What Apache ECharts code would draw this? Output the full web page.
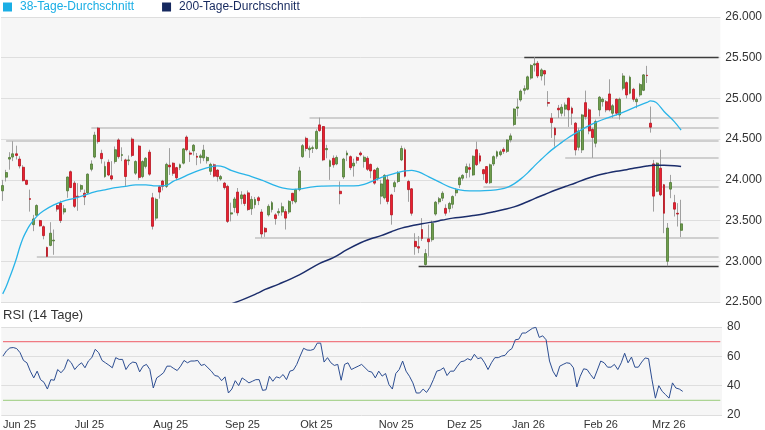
<!DOCTYPE html>
<html>
<head>
<meta charset="utf-8">
<script src="https://cdn.jsdelivr.net/npm/echarts@6/dist/echarts.min.js"></script>
<style>
html,body{margin:0;padding:0;background:#fff;}
#chart{width:765px;height:430px;}
</style>
</head>
<body>
<div id="chart"></div>
<script>
// ---- trading days per month ----
const months = [
  ['2025-06',[2,3,4,5,6,9,10,11,12,13,16,17,18,19,20,23,24,25,26,27,30]],
  ['2025-07',[1,2,3,4,7,8,9,10,11,14,15,16,17,18,21,22,23,24,25,28,29,30,31]],
  ['2025-08',[1,4,5,6,7,8,11,12,13,14,15,18,19,20,21,22,25,26,27,28,29]],
  ['2025-09',[1,2,3,4,5,8,9,10,11,12,15,16,17,18,19,22,23,24,25,26,29,30]],
  ['2025-10',[1,2,3,6,7,8,9,10,13,14,15,16,17,20,21,22,23,24,27,28,29,30,31]],
  ['2025-11',[3,4,5,6,7,10,11,12,13,14,17,18,19,20,21,24,25,26,27,28]],
  ['2025-12',[1,2,3,4,5,8,9,10,11,12,15,16,17,18,19,22,23,29,30]],
  ['2026-01',[2,5,6,7,8,9,12,13,14,15,16,19,20,21,22,23,26,27,28,29,30]],
  ['2026-02',[2,3,4,5,6,9,10,11,12,13,16,17,18,19,20,23,24,25,26,27]],
  ['2026-03',[2,3,4,5,6,9,10,11,12,13]]
];
const padSlots = 11;
const monthNames = ['Jan','Feb','Mrz','Apr','Mai','Jun','Jul','Aug','Sep','Okt','Nov','Dez'];

// ---- OHLC per month: [open, close, low, high] ----
const jun25 = [[23865,23930,23742,24000],[24033,24090,23980,24123],[24255,24275,24125,24340],[24280,24320,24230,24475],[24320,24300,24250,24420],[24255,24170,24140,24290],[24155,23990,23980,24180],[23995,23945,23935,24000],[23770,23760,23610,23880],[23450,23520,23370,23570],[23565,23685,23560,23700],[23500,23435,23425,23510],[23425,23315,23270,23440],[23170,23060,23050,23180],[23195,23345,23185,23480],[23250,23260,23080,23390],[23685,23640,23610,23700],[23715,23500,23470,23745],[23605,23645,23575,23690],[23865,24035,23780,24040],[24100,23905,23900,24115]];
const jul25 = [[23960,23675,23655,23985],[23800,23790,23620,23960],[23885,23930,23850,23945],[23835,23790,23690,23880],[23840,24070,23825,24080],[24130,24195,24105,24240],[24280,24550,24265,24590],[24635,24470,24445,24650],[24325,24260,24200,24370],[24040,24165,24025,24225],[24215,24060,24045,24250],[24050,24010,23990,24230],[24225,24370,24200,24410],[24490,24285,24260,24510],[24300,24310,24230,24400],[24245,24041,23926,24260],[24235,24245,24180,24300],[24500,24300,24280,24520],[24082,24225,24060,24240],[24415,24030,24000,24430],[24040,24225,24020,24240],[24165,24265,24140,24280],[24340,24070,24050,24370]];
const aug25 = [[23780,23430,23390,23840],[23530,23760,23500,23780],[23915,23850,23770,23930],[23985,23920,23870,24000],[23920,24190,23900,24210],[24180,24160,24060,24390],[24205,24080,24050,24215],[24150,24025,23995,24160],[24150,24185,24120,24200],[24205,24380,24190,24390],[24525,24370,24350,24545],[24330,24315,24220,24360],[24355,24425,24300,24440],[24290,24278,24180,24330],[24275,24295,24200,24320],[24270,24365,24230,24430],[24235,24275,24200,24290],[24105,24190,24060,24210],[24185,24045,24030,24200],[24120,24040,23980,24130],[24010,24040,23990,24060]];
const sep25 = [[23960,23905,23880,23975],[23920,23490,23470,23940],[23580,23595,23490,23720],[23660,23765,23600,23790],[23850,23595,23560,23900],[23770,23815,23700,23860],[23815,23710,23680,23830],[23840,23635,23620,23870],[23645,23760,23570,23800],[23695,23760,23650,23790],[23780,23745,23690,23800],[23605,23335,23290,23640],[23405,23360,23300,23420],[23570,23675,23550,23700],[23635,23720,23600,23740],[23570,23525,23450,23590],[23595,23612,23560,23650],[23605,23670,23560,23720],[23610,23530,23390,23640],[23605,23735,23580,23750],[23835,23745,23700,23840],[23730,23880,23710,23890]];
const oct25 = [[23880,24110,23860,24160],[24285,24420,24270,24440],[24510,24385,24350,24530],[24370,24390,24270,24420],[24385,24395,24330,24420],[24385,24595,24370,24620],[24675,24605,24590,24765],[24655,24245,24230,24660],[24370,24385,24265,24430],[24165,24235,24000,24250],[24265,24185,24150,24300],[24195,24275,24180,24300],[23860,23830,23700,23980],[24035,24255,24010,24270],[24305,24330,24230,24360],[24285,24150,24120,24300],[24170,24205,24040,24260],[24275,24240,24200,24290],[24330,24308,24290,24350],[24225,24278,24150,24300],[24265,24130,24110,24290],[24190,24110,24020,24200],[24120,23960,23940,24130]];
const nov25 = [[24020,24140,23990,24160],[23800,23950,23700,24000],[23780,24055,23760,24070],[24000,23735,23700,24050],[23815,23570,23450,23830],[23915,23965,23850,23990],[23980,24085,23960,24110],[24245,24385,24230,24420],[24370,24045,24030,24395],[23980,23880,23730,24000],[23890,23590,23560,23900],[23245,23180,23080,23345],[23180,23162,23100,23310],[23390,23280,23250,23530],[22960,23095,22940,23150],[23275,23240,23060,23450],[23265,23465,23240,23500],[23580,23725,23560,23740],[23730,23768,23700,23790],[23775,23836,23740,23860]];
const dec25 = [[23650,23590,23560,23700],[23645,23710,23600,23730],[23700,23795,23650,23810],[23840,23877,23800,23900],[23940,24025,23900,24040],[24020,24055,23990,24070],[24090,24162,24020,24200],[24150,24130,24030,24200],[24060,24290,24050,24300],[24370,24186,24170,24470],[24295,24230,24200,24330],[24125,24075,24000,24135],[24163,23965,23950,24170],[23965,24185,23950,24200],[24195,24285,24170,24300],[24290,24345,24260,24360],[24310,24345,24290,24370],[24375,24350,24320,24400],[24350,24490,24330,24500]];
const jan26 = [[24490,24540,24460,24570],[24680,24870,24660,24880],[24880,24895,24780,25000],[24982,25090,24960,25110],[25100,25120,25050,25160],[25113,25265,25100,25280],[25250,25405,25230,25420],[25410,25425,25330,25506],[25432,25276,25250,25460],[25276,25350,25220,25370],[25341,25300,25160,25350],[24950,24940,24900,25090],[24757,24703,24515,24820],[24634,24552,24409,24650],[24880,24860,24760,24920],[24818,24892,24780,24930],[24868,24920,24780,24950],[25003,24859,24650,25010],[24880,24818,24675,24900],[24696,24368,24300,24710],[24400,24600,24360,24640]];
const feb26 = [[24368,24797,24330,24810],[24948,24777,24740,25096],[24860,24600,24560,24880],[24620,24520,24270,24640],[24450,24716,24400,24740],[24859,25015,24780,25030],[24960,24990,24900,25010],[24960,24859,24830,24980],[25055,24859,24840,25235],[24818,24910,24760,24930],[24990,24818,24790,25000],[24797,24990,24740,25010],[25125,25276,25100,25310],[25194,25043,25000,25210],[25064,25260,25050,25280],[25113,24990,24960,25130],[24960,24990,24880,25010],[25043,25170,25020,25190],[25100,25289,25090,25300],[25285,25280,25190,25400]];
const mar26 = [[24696,24647,24580,24900],[24196,23800,23610,24245],[23860,24205,23850,24215],[24143,23816,23800,24370],[23940,23590,23345,23950],[23000,23408,22940,23470],[23886,23967,23775,24061],[23720,23640,23550,23816],[23590,23580,23427,23714],[23380,23460,23297,23755]];

// ---- moving averages: [tradingDayIndex, value] ----
const ma38 = [[0,22600],[1,22687],[2,22797],[3,22908],[4,23031],[5,23172],[6,23288],[7,23374],[8,23448],[10,23552],[12,23620],[15,23693],[18,23742],[21,23773],[24,23812],[27,23853],[30,23877],[33,23904],[36,23920],[39,23939],[42,23939],[45,23926],[48,23933],[50,23982],[52,24016],[55,24074],[58,24123],[61,24160],[63,24172],[65,24156],[67,24117],[70,24076],[73,24041],[76,23996],[79,23945],[82,23902],[85,23884],[88,23893],[91,23914],[94,23923],[97,23926],[100,23926],[103,23926],[106,23945],[109,23994],[112,24043],[115,24080],[118,24110],[120,24117],[122,24098],[125,24037],[128,23975],[131,23914],[134,23877],[137,23865],[140,23865],[143,23871],[146,23886],[148,23908],[150,23951],[152,24012],[154,24086],[156,24172],[158,24252],[160,24331],[162,24399],[164,24460],[166,24521],[168,24571],[171,24644],[174,24706],[177,24755],[180,24798],[183,24847],[186,24902],[189,24951],[190,24969],[191,24963],[192,24939],[194,24840],[197,24715],[199,24610]];
const ma200 = [[65,22455],[68,22490],[75,22612],[77,22655],[81,22720],[87,22834],[93,22975],[97,23045],[101,23143],[105,23228],[108,23277],[111,23315],[114,23363],[117,23407],[120,23436],[123,23462],[126,23481],[129,23506],[132,23530],[135,23545],[138,23562],[141,23582],[144,23607],[147,23635],[150,23668],[153,23715],[156,23770],[159,23820],[162,23872],[165,23918],[168,23962],[171,24010],[174,24050],[177,24080],[180,24106],[183,24125],[186,24148],[189,24170],[191,24180],[194,24178],[197,24172],[199,24165]];

// ---- RSI (14) per trading day ----
const rsi = [60.2,63.7,65.7,66,65.3,62.5,57.2,55.6,49.9,45.3,49.9,44.1,42.3,37.7,44.1,43.7,51,48.8,51.5,57.9,55.6,51,53.8,55.6,52.2,56.8,59.1,64.8,62.5,57.2,55.6,54,52.2,59.1,57.9,57.9,51,54.5,56.1,55.6,49.4,53.3,54.5,51,38.4,45.3,46.9,48.8,53.3,53.3,51.7,50.3,53.3,57.2,55.6,56.8,56.8,57.2,53.8,54.5,52.2,49.9,46.9,46.4,43.4,46,35,37.7,43.4,40,45.3,43.7,41.9,43,44.1,44.1,36.8,37.2,46.4,43,46,45.3,47.6,44.1,49.9,50.6,54.5,60.2,65.5,64.3,64.1,64.8,69,69,56.1,59.1,55.6,53.8,54.5,43.7,54.5,55.6,51,52.2,53.3,54.5,null,49.9,49.2,45.3,49.9,46.5,48.3,40.7,37.7,48.3,51,56.8,49.9,46.4,41.9,35,35,37.7,35.4,38.9,44.1,49.9,50.6,52.2,46.9,49.9,49.9,53.3,56.3,56.8,58.4,57.4,61.4,58.4,59.1,55.6,51,55.6,59.1,59.1,60.2,60.7,63.7,65.3,71.3,71.7,75.9,75.9,77.5,79.1,79.8,72.9,74,71.3,56.8,49.9,46,53.3,54.5,55.6,55.2,52.2,39.1,46.4,51.5,51,47.6,44.6,50.6,56.8,55.6,52.6,52.6,54.5,51,55.6,62.1,55.6,59.5,52.6,52.6,56.1,58.9,58.4,44.1,31.5,40,36.1,33.8,31.5,41.9,38.4,37.7,36.1];
const rsiOverbought = 70;
const rsiOversold = 30;

// ---- horizontal support / resistance lines: [value, startDayIndex, dark] ----
const hLines = [[25505,153,true],[24761,90,false],[24638,26,false],[24478,1,false],[24270,165,false],[23914,141,false],[23288,74,false],[23055,10,false],[22945,122,true]];

// ---- axis ticks ----
const priceAxis = {min:22500, max:26000, step:500};
const rsiAxis = {min:20, max:80, step:20};

// ---- build ----
const categories = [];
const firstOfMonth = new Set();
months.forEach(([ym, days]) => {
  days.forEach((d, k) => {
    if (k === 0) firstOfMonth.add(categories.length);
    categories.push(ym + '-' + String(d).padStart(2,'0'));
  });
});
for (let k = 1; k <= padSlots; k++) categories.push('pad' + k);
const lastSlot = categories.length - 1;

const ohlc = [].concat(jun25, jul25, aug25, sep25, oct25, nov25, dec25, jan26, feb26, mar26);
const bodies = ohlc.map(([o,c]) => [o, c, Math.min(o,c), Math.max(o,c)]);

const FONT = '"Liberation Sans", Arial, Helvetica, sans-serif';
const fmtDE = v => String(v).replace(/\B(?=(\d{3})+(?!\d))/g, '.');

function levelSeries(name, value, color, width) {
  return {
    name: name, type: 'line', xAxisIndex: 1, yAxisIndex: 1, z: 3,
    data: [[0, value], [lastSlot, value]],
    showSymbol: false, silent: true, color: color,
    itemStyle: {color: color},
    lineStyle: {color: color, width: width, type: 'solid'},
    emphasis: {disabled: true}
  };
}

const chart = echarts.init(document.getElementById('chart'), null, {renderer:'canvas'});
chart.setOption({
  animation: false,
  backgroundColor: '#ffffff',
  textStyle: {fontFamily: FONT},
  legend: {
    left: 3, top: 0, padding: 0, itemWidth: 9, itemHeight: 9, itemGap: 28, icon: 'rect',
    textStyle: {fontSize: 12, fontFamily: FONT, padding: [0,0,0,3], lineHeight: 14},
    data: [
      {name: '38-Tage-Durchschnitt', textStyle: {color: '#1aaee5'}},
      {name: '200-Tage-Durchschnitt', textStyle: {color: '#16295f'}}
    ],
    selectedMode: false
  },
  graphic: [{
    type: 'text', left: 3, top: 309,
    style: {text: 'RSI (14 Tage)', font: '13px ' + FONT, fill: '#333333'}
  }],
  grid: [
    {left: 1, top: 17, width: 721, height: 285, show: true, backgroundColor: '#f6f6f6', borderWidth: 0},
    {left: 1, top: 327, width: 721, height: 88, show: true, backgroundColor: '#f6f6f6', borderWidth: 0}
  ],
  xAxis: [
    {type: 'category', gridIndex: 0, data: categories, boundaryGap: true,
     axisLine: {show: false}, axisTick: {show: false}, axisLabel: {show: false}, splitLine: {show: false}},
    {type: 'category', gridIndex: 1, data: categories, boundaryGap: true,
     axisLine: {show: false}, axisTick: {show: false}, splitLine: {show: false},
     axisLabel: {
       show: true, align: 'left', margin: 4, fontSize: 11, color: '#333333', fontFamily: FONT,
       interval: (idx) => firstOfMonth.has(idx),
       formatter: (val) => {
         if (val.indexOf('pad') === 0) return '';
         const y = val.slice(2,4), m = parseInt(val.slice(5,7), 10);
         return monthNames[m-1] + ' ' + y;
       }
     }}
  ],
  yAxis: [
    {type: 'value', gridIndex: 0, position: 'right', min: priceAxis.min, max: priceAxis.max, interval: priceAxis.step,
     axisLine: {show: false}, axisTick: {show: false},
     axisLabel: {margin: 5, fontSize: 12, color: '#333333', fontFamily: FONT, formatter: fmtDE},
     splitLine: {lineStyle: {color: '#dedede', width: 1}}},
    {type: 'value', gridIndex: 1, position: 'right', min: rsiAxis.min, max: rsiAxis.max, interval: rsiAxis.step,
     axisLine: {show: false}, axisTick: {show: false},
     axisLabel: {margin: 5, fontSize: 12, color: '#333333', fontFamily: FONT},
     splitLine: {lineStyle: {color: '#dedede', width: 1}}}
  ],
  series: [
    {
      name: 'wicks', type: 'candlestick', xAxisIndex: 0, yAxisIndex: 0, data: ohlc,
      barWidth: 1, z: 2,
      itemStyle: {color: '#a0a0a0', color0: '#a0a0a0', borderColor: '#a0a0a0', borderColor0: '#a0a0a0', borderWidth: 1},
      markLine: {
        silent: true, symbol: ['none','none'], label: {show: false}, z: 1,
        data: hLines.map(([v, start, dark]) => [
          {coord: [start, v], lineStyle: {color: dark ? '#3c3c3c' : '#c2c2c2', width: dark ? 1.3 : 1.6, type: 'solid'}},
          {coord: [lastSlot, v]}
        ])
      }
    },
    {
      name: 'candles', type: 'candlestick', xAxisIndex: 0, yAxisIndex: 0, data: bodies,
      barWidth: 2.4, z: 3,
      itemStyle: {color: '#6f9d4c', color0: '#ea2030', borderColor: '#4e7a34', borderColor0: '#b8141f', borderWidth: 0.8}
    },
    {
      name: '38-Tage-Durchschnitt', type: 'line', xAxisIndex: 0, yAxisIndex: 0, data: ma38,
      smooth: 0.4, showSymbol: false, z: 4,
      itemStyle: {color: '#1aaee5'}, lineStyle: {color: '#29b4e8', width: 1.3}
    },
    {
      name: '200-Tage-Durchschnitt', type: 'line', xAxisIndex: 0, yAxisIndex: 0, data: ma200,
      smooth: 0.4, showSymbol: false, z: 4, clip: true,
      itemStyle: {color: '#16295f'}, lineStyle: {color: '#1b2d6b', width: 1.5}
    },
    levelSeries('rsiOverbought', rsiOverbought, '#f07a82', 1.2),
    levelSeries('rsiOversold', rsiOversold, '#acd494', 1.4),
    {
      name: 'RSI', type: 'line', xAxisIndex: 1, yAxisIndex: 1, data: rsi,
      connectNulls: true, showSymbol: false, z: 4,
      lineStyle: {color: '#2c4d91', width: 1}, itemStyle: {color: '#2c4d91'}
    }
  ]
});
</script>
</body>
</html>
